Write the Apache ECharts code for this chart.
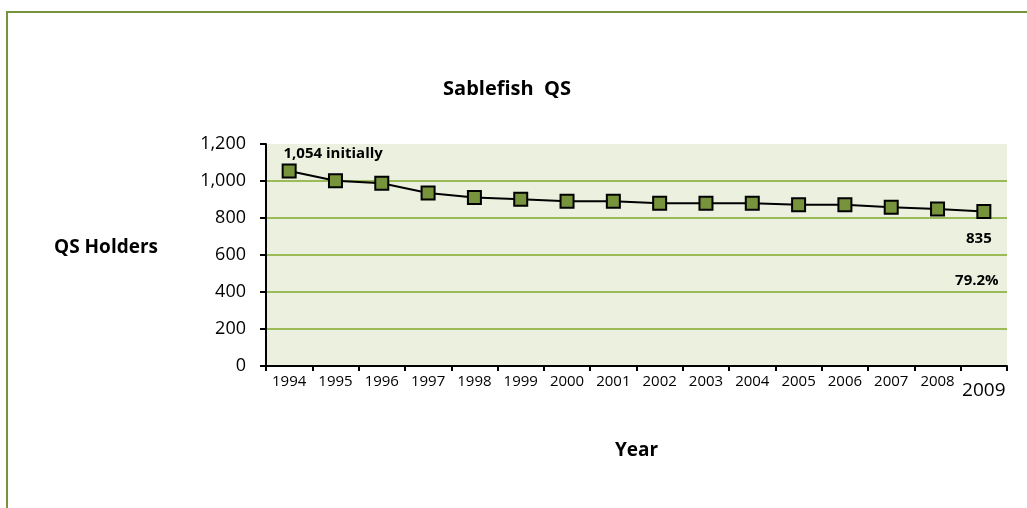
<!DOCTYPE html>
<html>
<head>
<meta charset="utf-8">
<script src="https://cdn.jsdelivr.net/npm/echarts@6/dist/echarts.min.js"></script>
<style>
    html, body { margin: 0; padding: 0; background: #fff; overflow: hidden; }
    #frame { position: absolute; left: 6px; top: 11px; width: 1100px; height: 600px; border: 2px solid #77933C; box-sizing: border-box; }
    #main { position: absolute; left: 0; top: 0; width: 1027px; height: 508px; }
</style>
</head>
<body>
<div id="frame"></div>
<div id="main"></div>
<script>
    // QS holders per year
    var years = ['1994','1995','1996','1997','1998','1999','2000','2001','2002','2003','2004','2005','2006','2007','2008','2009'];
    var holders = [1054, 1001, 988, 935, 911, 901, 890, 890, 880, 880, 880, 871, 871, 858, 848, 835];
    var yTicks = [0, 200, 400, 600, 800, 1000, 1200];

    var font = '"Open Sans", Lato, sans-serif';
    var lastIdx = years.length - 1;
    var pct = (holders[lastIdx] / holders[0] * 100).toFixed(1) + '%';

    var chart = echarts.init(document.getElementById('main'));
    var option = {
        animation: false,
        textStyle: { fontFamily: font, color: '#000' },
        title: {
            text: 'Sablefish  QS',
            left: 502, top: 74, textAlign: 'center',
            textStyle: { fontFamily: font, fontSize: 20, fontWeight: 'bold', color: '#000' }
        },
        grid: {
            left: 266, right: 20, top: 144, bottom: 142,
            show: true, backgroundColor: '#EBF1DE', borderWidth: 0
        },
        xAxis: {
            type: 'category',
            data: years,
            boundaryGap: true,
            name: 'Year',
            nameLocation: 'middle',
            nameGap: 75,
            nameTextStyle: { fontFamily: font, fontSize: 19, fontWeight: 'bold', color: '#000' },
            axisLine: { lineStyle: { color: '#000', width: 2 } },
            axisTick: { show: true, length: 5, lineStyle: { color: '#000', width: 2 } },
            axisLabel: {
                interval: 0, margin: 8, fontFamily: font, fontSize: 15, color: '#000',
                formatter: function (v, i) { return i === lastIdx ? '{big|' + v + '}' : v; },
                rich: { big: { fontFamily: font, fontSize: 19, color: '#000', padding: [7, 0, 0, 0] } }
            },
            splitLine: { show: false }
        },
        yAxis: {
            type: 'value',
            min: yTicks[0], max: yTicks[yTicks.length - 1], interval: 200,
            name: 'QS Holders',
            nameLocation: 'middle',
            nameRotate: 0,
            nameGap: 108,
            nameTextStyle: { fontFamily: font, fontSize: 19, fontWeight: 'bold', color: '#000', verticalAlign: 'bottom', lineHeight: 14 },
            axisLine: { show: true, lineStyle: { color: '#000', width: 2 } },
            axisTick: { show: true, length: 6, lineStyle: { color: '#000', width: 2 } },
            axisLabel: {
                margin: 20, fontFamily: font, fontSize: 18, color: '#000',
                formatter: function (v) { return v.toLocaleString('en-US'); }
            },
            splitLine: { show: true, showMaxLine: false, lineStyle: { color: '#9BBB59', width: 2 } }
        },
        series: [{
            type: 'line',
            data: holders.map(function (v, i) {
                var d = { value: v };
                if (i === 0) {
                    d.label = { show: true, position: 'top', offset: [44, 3], formatter: function (p) { return p.value.toLocaleString('en-US') + ' initially'; } };
                } else if (i === lastIdx) {
                    d.label = { show: true, position: 'bottom', offset: [-5, 7], formatter: '{c}' };
                }
                return d;
            }),
            symbol: 'rect',
            symbolSize: 13,
            itemStyle: { color: '#77933C', borderColor: '#000', borderWidth: 2 },
            lineStyle: { color: '#000', width: 2 },
            label: { fontFamily: font, fontSize: 15, fontWeight: 'bold', color: '#000' },
            markPoint: {
                symbol: 'circle',
                symbolSize: 1,
                itemStyle: { color: 'transparent' },
                data: [{
                    coord: [years[lastIdx], holders[lastIdx]],
                    label: { show: true, position: 'inside', formatter: pct, offset: [-7, 69], fontFamily: font, fontSize: 15, fontWeight: 'bold', color: '#000' }
                }]
            },
            z: 3
        }]
    };
    chart.setOption(option);
</script>
</body>
</html>
